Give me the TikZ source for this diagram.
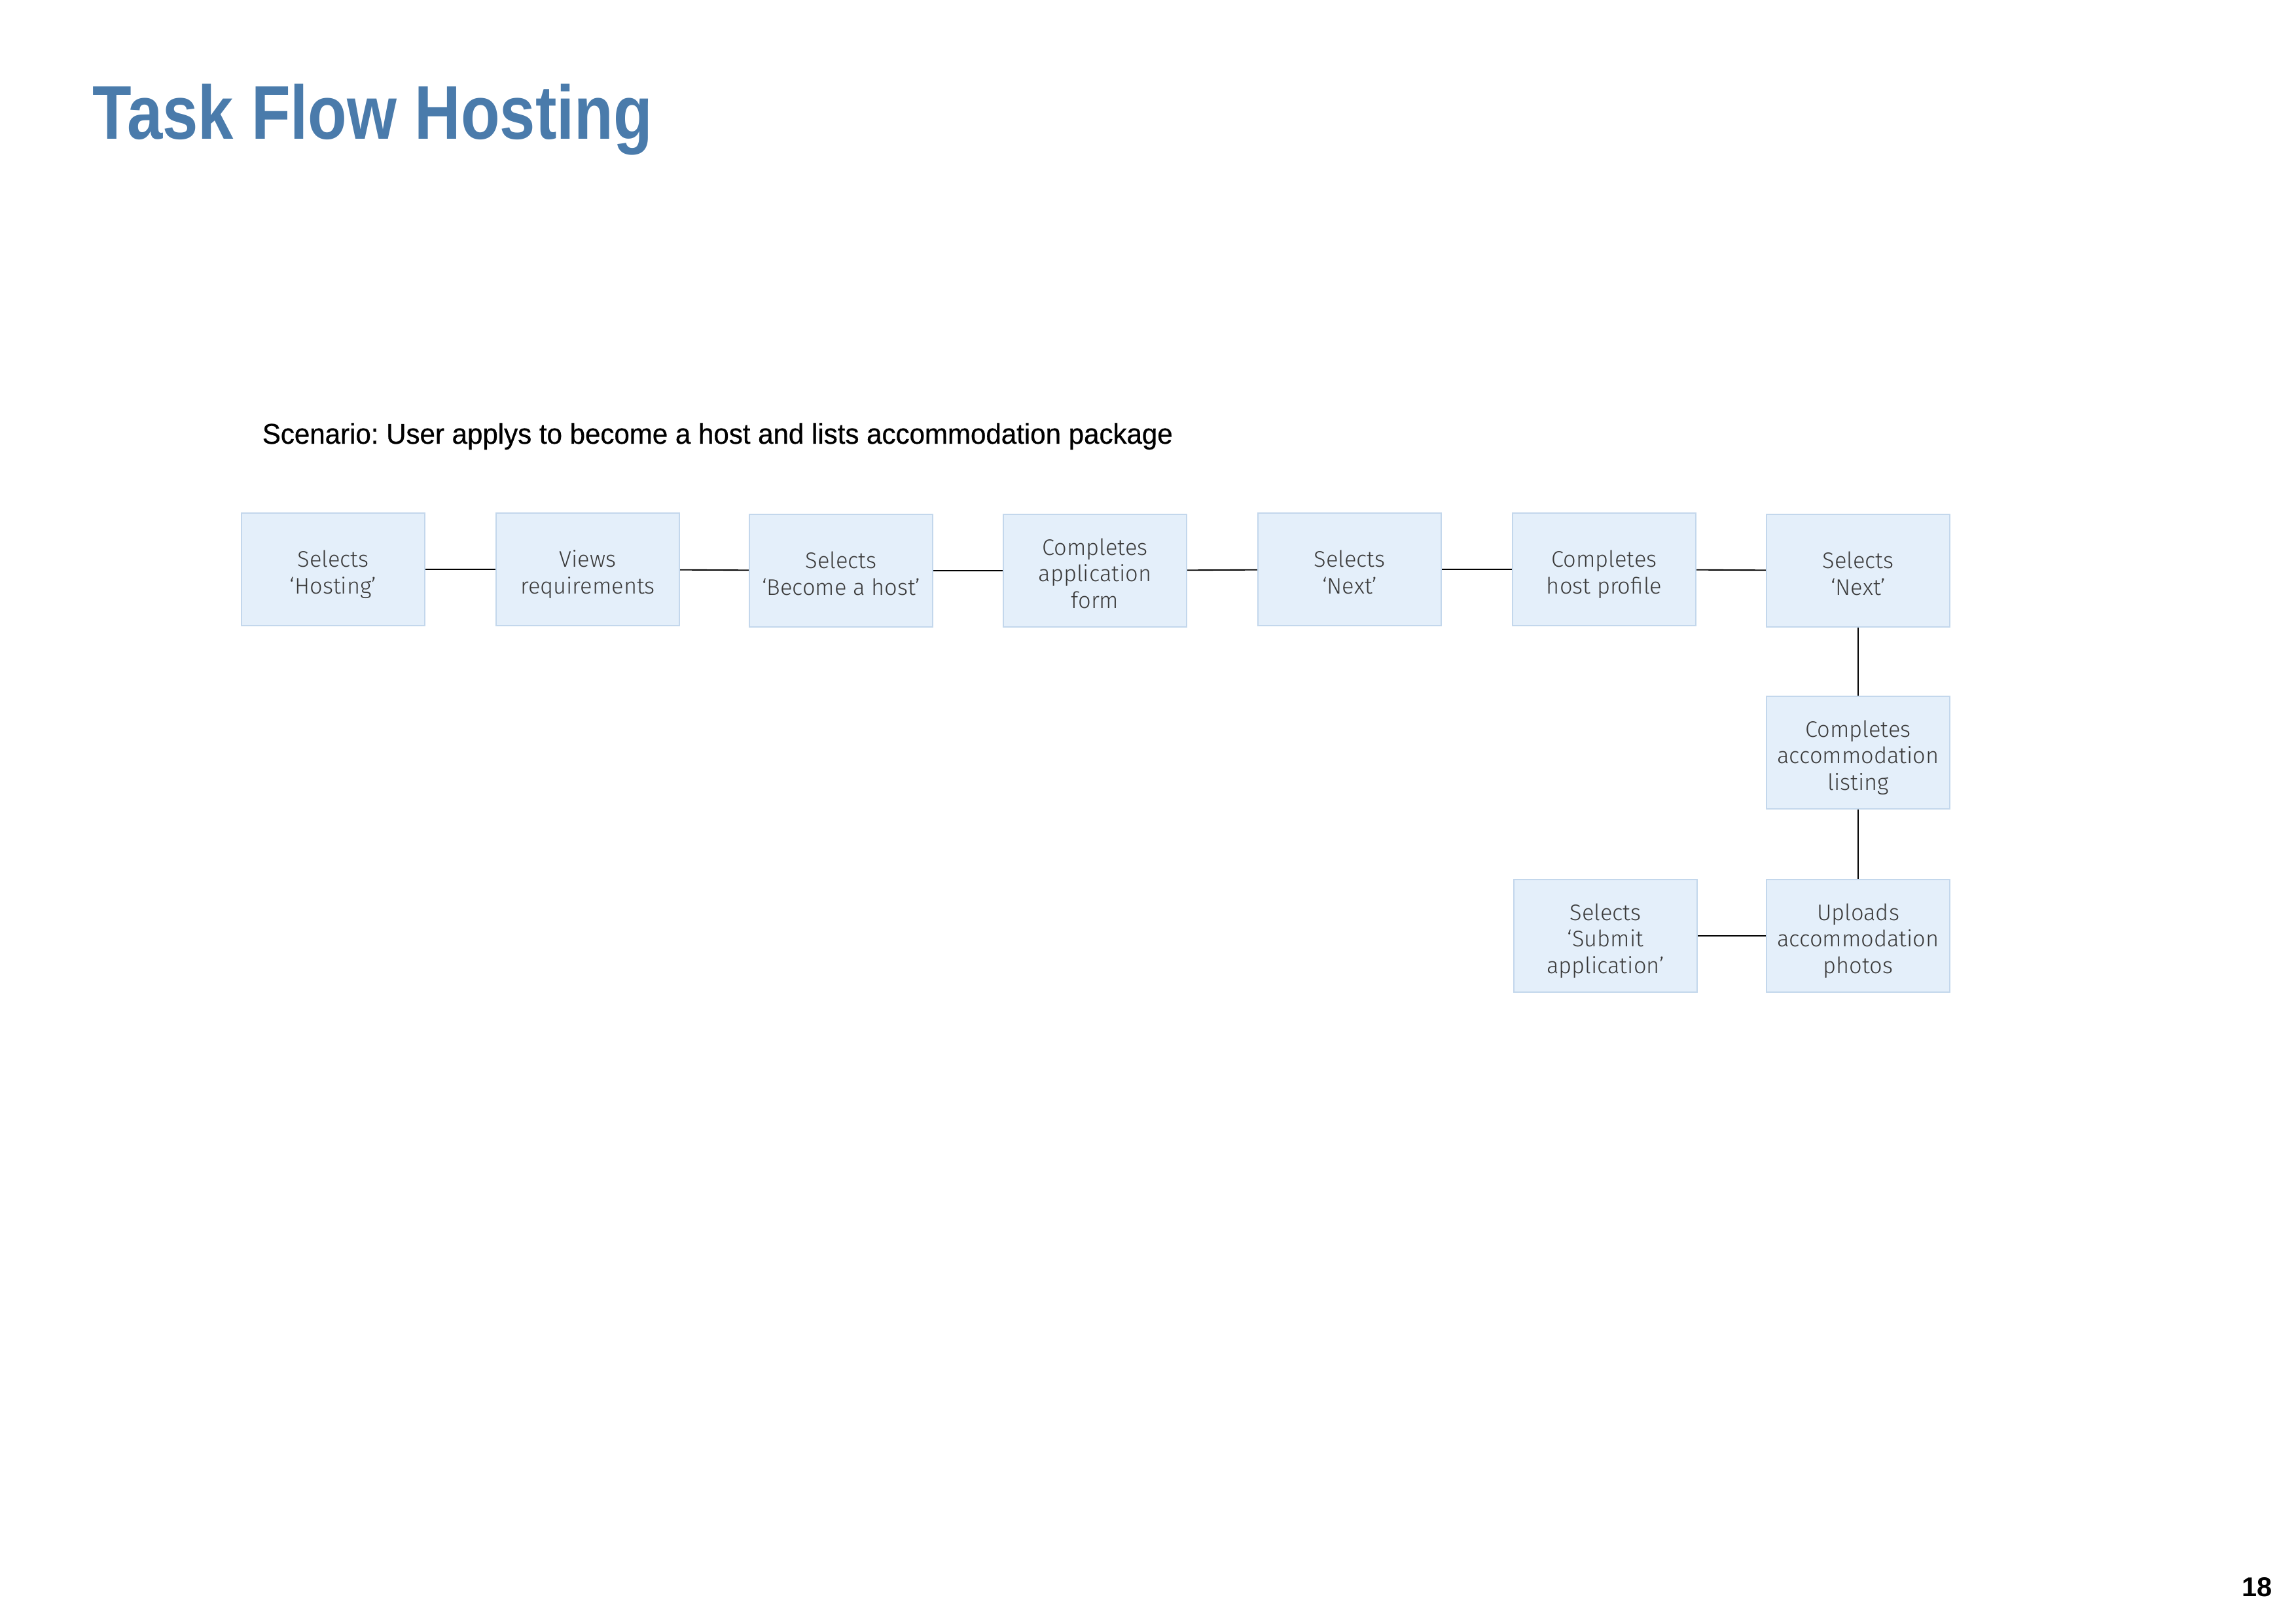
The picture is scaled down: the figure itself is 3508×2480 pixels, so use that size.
\documentclass[tikz,border=0pt]{standalone}
\usepackage{fontspec}
\setmainfont{Liberation Sans}
\newfontfamily\titlefont[FakeStretch=0.84]{Liberation Sans}
\newfontfamily\scenfont[FakeStretch=0.965,FakeBold=0.6]{Liberation Sans}
\newfontfamily\boxfont{Fira Sans Light}
\definecolor{titleblue}{HTML}{4A7BAB}
\definecolor{boxfill}{HTML}{E4EFFA}
\definecolor{boxline}{HTML}{C3D7EC}
\definecolor{boxtext}{HTML}{3A3A3A}
\newcommand\tasktext[1]{\raisebox{0pt}[\dimexpr\height+1.5mm\relax][\depth]{\begin{tabular}{@{}c@{}}#1\end{tabular}}}
\begin{document}
\frenchspacing
\begin{tikzpicture}[x=0.08467mm,y=-0.08467mm,
  taskbox/.style={draw=boxline, line width=0.6pt, fill=boxfill, minimum width=23.7mm, minimum height=14.56mm,
    inner sep=0pt, text=boxtext, font=\boxfont\fontsize{8.3}{9.7}\selectfont},
  link/.style={draw=black, line width=0.45pt}]
\useasboundingbox (0,0) rectangle (3508,2480);
\node[anchor=base west, inner sep=0pt, text=titleblue, font=\titlefont\bfseries\fontsize{28}{32}\selectfont] (title) at (141,213) {Task Flow Hosting};
\node[anchor=base west, inner sep=0pt, font=\scenfont\fontsize{10.5}{12}\selectfont] (scenario) at (400,678) {Scenario: User applys to become a host and lists accommodation package};
\node[anchor=base east, inner sep=0pt, font=\bfseries\fontsize{10}{12}\selectfont] (page) at (3472,2439) {18};

\node[taskbox] (b1) at (509,870) {\tasktext{Selects\\‘Hosting’}};
\node[taskbox] (b2) at (898,870) {\tasktext{Views\\requirements}};
\node[taskbox] (b3) at (1285,872) {\tasktext{Selects\\‘Become a host’}};
\node[taskbox] (b4) at (1673,872) {\tasktext{Completes\\application\\form}};
\node[taskbox] (b5) at (2062,870) {\tasktext{Selects\\‘Next’}};
\node[taskbox] (b6) at (2451,870) {\tasktext{Completes\\host profile}};
\node[taskbox] (b7) at (2839,872) {\tasktext{Selects\\‘Next’}};
\node[taskbox] (b8) at (2839,1150) {\tasktext{Completes\\accommodation\\listing}};
\node[taskbox] (b9) at (2839,1430) {\tasktext{Uploads\\accommodation\\photos}};
\node[taskbox] (b10) at (2453,1430) {\tasktext{Selects\\‘Submit\\application’}};

\draw[link] (b1) -- (b2);
\draw[link] (b2) -- (b3);
\draw[link] (b3) -- (b4);
\draw[link] (b4) -- (b5);
\draw[link] (b5) -- (b6);
\draw[link] (b6) -- (b7);
\draw[link] (b7) -- (b8);
\draw[link] (b8) -- (b9);
\draw[link] (b10) -- (b9);
\end{tikzpicture}
\end{document}
